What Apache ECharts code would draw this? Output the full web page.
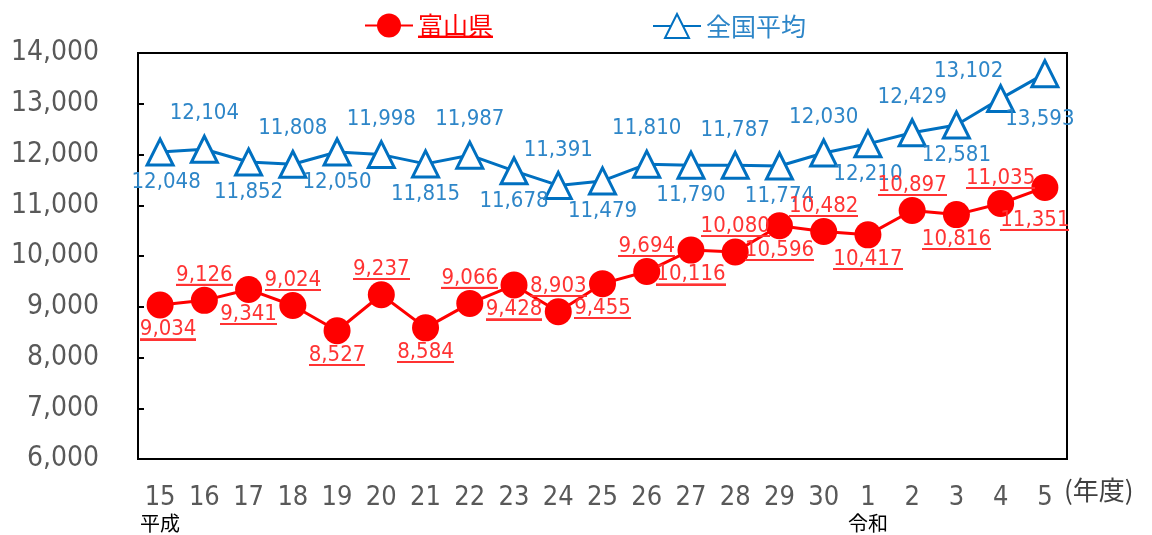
<!DOCTYPE html>
<html>
<head>
<meta charset="utf-8">
<script src="https://cdn.jsdelivr.net/npm/echarts@6/dist/echarts.min.js"></script>
<style>
  html, body { margin: 0; padding: 0; background: #fff; }
  #chart { width: 1152px; height: 535px; }
</style>
</head>
<body>
<div id="chart"></div>
<script>
// 年度（平成15〜30、令和1〜5）
var years = ['15', '16', '17', '18', '19', '20', '21', '22', '23', '24', '25', '26', '27', '28', '29', '30', '1', '2', '3', '4', '5'];
// 富山県
var toyama = [9034, 9126, 9341, 9024, 8527, 9237, 8584, 9066, 9428, 8903, 9455, 9694, 10116, 10080, 10596, 10482, 10417, 10897, 10816, 11035, 11351];
// 全国平均
var zenkoku = [12048, 12104, 11852, 11808, 12050, 11998, 11815, 11987, 11678, 11391, 11479, 11810, 11790, 11787, 11774, 12030, 12210, 12429, 12581, 13102, 13593];
var yTicks = [6000, 14000, 1000]; // min, max, interval

var RED = '#FF0000';
var RED_TEXT = '#FF3333';
var BLUE = '#0070C0';
var BLUE_TEXT = '#2E86C8';
var NUM_FONT = '"DejaVu Sans Condensed", "DejaVu Sans", sans-serif';
var JP_FONT = '"Noto Sans CJK JP", sans-serif';

// 手で動かしてあるラベルのずれ（index: [x, y]）
var toyamaShift = { 0: [8, 0], 20: [-10, 8] };
var zenkokuShift = { 0: [6, 0], 19: [-32, 8], 20: [-5, 15] };

// 下線用の画像（文字の背景として下端に線を引く）
function underlineImg(color) {
    var c = document.createElement('canvas');
    c.width = 4;
    c.height = 40;
    var ctx = c.getContext('2d');
    ctx.fillStyle = color;
    ctx.fillRect(0, 36, 4, 4);
    return c;
}
var redLine = underlineImg(RED_TEXT);

function fmt(v) {
    return Number(v).toLocaleString('en-US');
}

// ラベルを交互に下・上へ
var toyamaData = toyama.map(function (v, i) {
    var below = i % 2 === 0;
    return {
        value: v,
        label: { position: below ? 'bottom' : 'top', distance: below ? 0 : 1, offset: toyamaShift[i] || [0, 0] }
    };
});
var zenkokuData = zenkoku.map(function (v, i) {
    var below = i % 2 === 0;
    return {
        value: v,
        label: { position: below ? 'bottom' : 'top', distance: below ? 4 : 9, offset: zenkokuShift[i] || [0, 0] }
    };
});

var myChart = echarts.init(document.getElementById('chart'));

var option = {
    animation: false,
    grid: {
        left: 138,
        right: 85,
        top: 53,
        bottom: 76,
        show: true,
        borderColor: '#000',
        borderWidth: 2,
        containLabel: false
    },
    legend: [{
        data: ['富山県'],
        left: 359,
        top: 8,
        itemWidth: 48,
        itemHeight: 30,
        itemGap: 6,
        formatter: function (name) { return '{u|' + name + '}'; },
        textStyle: {
            rich: {
                u: {
                    color: RED,
                    fontSize: 25,
                    fontFamily: JP_FONT,
                    lineHeight: 26,
                    backgroundColor: { image: underlineImg(RED) }
                }
            }
        }
    }, {
        data: ['全国平均'],
        left: 647,
        top: 8,
        itemWidth: 48,
        itemHeight: 30,
        textStyle: {
            color: BLUE_TEXT,
            fontSize: 25,
            fontFamily: JP_FONT
        }
    }],
    xAxis: {
        type: 'category',
        data: years,
        boundaryGap: true,
        name: '(年度)',
        nameLocation: 'end',
        nameGap: -3,
        nameTextStyle: {
            color: '#404040',
            fontSize: 26,
            fontFamily: JP_FONT,
            align: 'left',
            verticalAlign: 'top',
            padding: [18, 0, 0, 0]
        },
        axisLine: { show: true, lineStyle: { color: '#000', width: 2 } },
        axisTick: { show: false },
        splitLine: { show: false },
        axisLabel: {
            interval: 0,
            margin: 25,
            color: '#595959',
            fontSize: 27,
            lineHeight: 28,
            fontFamily: NUM_FONT,
            formatter: function (v, i) {
                if (i === 0) return v + '\n{s|平成}';
                if (i === 16) return v + '\n{s|令和}';
                return v;
            },
            rich: {
                s: {
                    color: '#000',
                    fontSize: 20,
                    fontFamily: JP_FONT,
                    lineHeight: 22
                }
            }
        }
    },
    yAxis: {
        type: 'value',
        min: yTicks[0],
        max: yTicks[1],
        interval: yTicks[2],
        axisLine: { show: true, lineStyle: { color: '#000', width: 2 } },
        axisTick: { show: true, inside: true, length: 6, lineStyle: { color: '#000', width: 2 } },
        splitLine: { show: false },
        axisLabel: {
            margin: 39,
            color: '#595959',
            fontSize: 28,
            fontFamily: NUM_FONT,
            padding: [0, 0, 8, 0],
            formatter: function (v) { return fmt(v); }
        }
    },
    series: [{
        name: '富山県',
        type: 'line',
        data: toyamaData,
        symbol: 'circle',
        symbolSize: 27,
        lineStyle: { color: RED, width: 3 },
        itemStyle: { color: RED, borderWidth: 0 },
        label: {
            show: true,
            formatter: function (p) { return '{u|' + fmt(p.value) + '}'; },
            rich: {
                u: {
                    color: RED_TEXT,
                    fontSize: 22,
                    fontFamily: NUM_FONT,
                    lineHeight: 22,
                    backgroundColor: { image: redLine }
                }
            }
        },
        z: 3
    }, {
        name: '全国平均',
        type: 'line',
        data: zenkokuData,
        symbol: 'triangle',
        symbolSize: 26,
        lineStyle: { color: BLUE, width: 3 },
        itemStyle: { color: '#fff', borderColor: BLUE, borderWidth: 3 },
        label: {
            show: true,
            color: BLUE_TEXT,
            fontSize: 22,
            fontFamily: NUM_FONT,
            lineHeight: 24,
            formatter: function (p) { return fmt(p.value); }
        },
        z: 2
    }]
};

myChart.setOption(option);
</script>
</body>
</html>
